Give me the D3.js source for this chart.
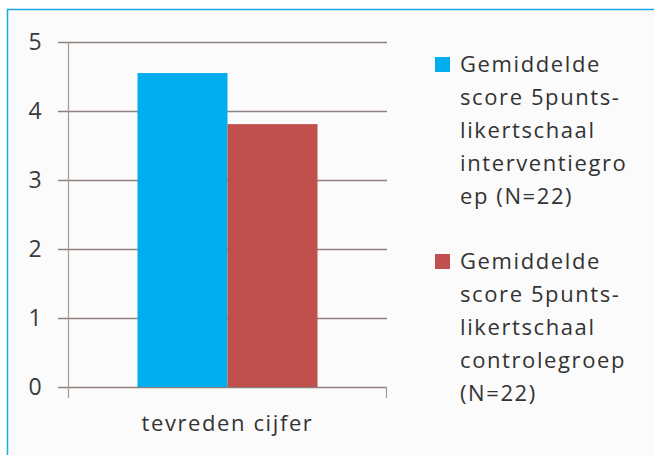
<!DOCTYPE html>
<html>
<head>
<meta charset="utf-8">
<script src="https://cdn.jsdelivr.net/npm/d3@7"></script>
<style>
  html, body { margin: 0; padding: 0; background: #fff; }
  svg { display: block; }
</style>
</head>
<body>
<svg id="chart" width="654" height="455"></svg>
<script>
// chart data
const categories = ['tevreden cijfer'];
const seriesNames = [
  ['Gemiddelde', 'score 5punts-', 'likertschaal', 'interventiegro', 'ep (N=22)'],
  ['Gemiddelde', 'score 5punts-', 'likertschaal', 'controlegroep', '(N=22)']
];
const seriesValues = [4.55, 3.81];
const seriesColors = ['#00aeef', '#c0504d'];
const yTicks = [0, 1, 2, 3, 4, 5];

const width = 654, height = 455;
const margin = { top: 42, left: 68, right: 267, bottom: 68 };
const plotW = width - margin.left - margin.right;
const plotH = height - margin.top - margin.bottom;

const font = '"Open Sans", sans-serif';
const svg = d3.select('#chart');

// frame
svg.append('rect')
  .attr('x', 7.5).attr('y', 9.5)
  .attr('width', width).attr('height', height)
  .attr('fill', '#fbfbfb')
  .attr('stroke', '#1aa9e6')
  .attr('stroke-width', 1.5);

const g = svg.append('g')
  .attr('transform', `translate(${margin.left}, ${margin.top})`);

const x = d3.scaleBand()
  .domain(categories)
  .range([0, plotW])
  .paddingInner(0)
  .paddingOuter(0.386);

const xSub = d3.scaleBand()
  .domain(d3.range(seriesValues.length))
  .range([0, x.bandwidth()]);

const y = d3.scaleLinear()
  .domain([0, 5])
  .range([plotH, 0]);

// gridlines
g.append('g')
  .selectAll('line')
  .data(yTicks)
  .enter().append('line')
  .attr('x1', -10)
  .attr('x2', plotW)
  .attr('y1', d => Math.round(y(d)) + 0.5)
  .attr('y2', d => Math.round(y(d)) + 0.5)
  .attr('stroke', '#8d817b')
  .attr('stroke-width', 1.5);

// vertical axis line
g.append('line')
  .attr('x1', 0.5).attr('x2', 0.5)
  .attr('y1', 0).attr('y2', plotH + 11)
  .attr('stroke', '#a39994')
  .attr('stroke-width', 1.2);

// category tick at right end
g.append('line')
  .attr('x1', plotW - 0.5).attr('x2', plotW - 0.5)
  .attr('y1', plotH).attr('y2', plotH + 11)
  .attr('stroke', '#a39994')
  .attr('stroke-width', 1.2);

// bars
g.append('g')
  .selectAll('rect')
  .data(seriesValues)
  .enter().append('rect')
  .attr('x', (d, i) => x(categories[0]) + xSub(i))
  .attr('y', d => y(d))
  .attr('width', xSub.bandwidth())
  .attr('height', d => plotH - y(d))
  .attr('fill', (d, i) => seriesColors[i]);

// y tick labels
g.append('g')
  .selectAll('text')
  .data(yTicks)
  .enter().append('text')
  .attr('x', -33)
  .attr('y', d => y(d))
  .attr('dy', '0.35em')
  .attr('text-anchor', 'middle')
  .style('font-family', font)
  .style('font-size', '23px')
  .style('font-weight', 500)
  .style('fill', '#3a3a3a')
  .text(d => d);

// category label
g.append('text')
  .attr('x', x(categories[0]) + x.bandwidth() / 2)
  .attr('y', plotH + 44)
  .attr('text-anchor', 'middle')
  .style('font-family', font)
  .style('font-size', '22px')
  .style('font-weight', 500)
  .style('letter-spacing', '1.6px')
  .style('fill', '#333')
  .text(categories[0]);

// legend
const legend = svg.append('g')
  .attr('transform', 'translate(435, 57)');

const lineH = 33;
let offset = 0;
seriesNames.forEach((lines, i) => {
  const item = legend.append('g')
    .attr('transform', `translate(0, ${offset})`);
  item.append('rect')
    .attr('x', 0).attr('y', 0)
    .attr('width', 15).attr('height', 15)
    .attr('fill', seriesColors[i]);
  item.selectAll('text')
    .data(lines)
    .enter().append('text')
    .attr('x', 25)
    .attr('y', (d, j) => 15 + j * lineH)
    .style('font-family', font)
    .style('font-size', '22px')
    .style('font-weight', 500)
    .style('letter-spacing', '1.6px')
    .style('fill', '#333')
    .text(d => d);
  offset += lines.length * lineH + 32;
});
</script>
</body>
</html>
